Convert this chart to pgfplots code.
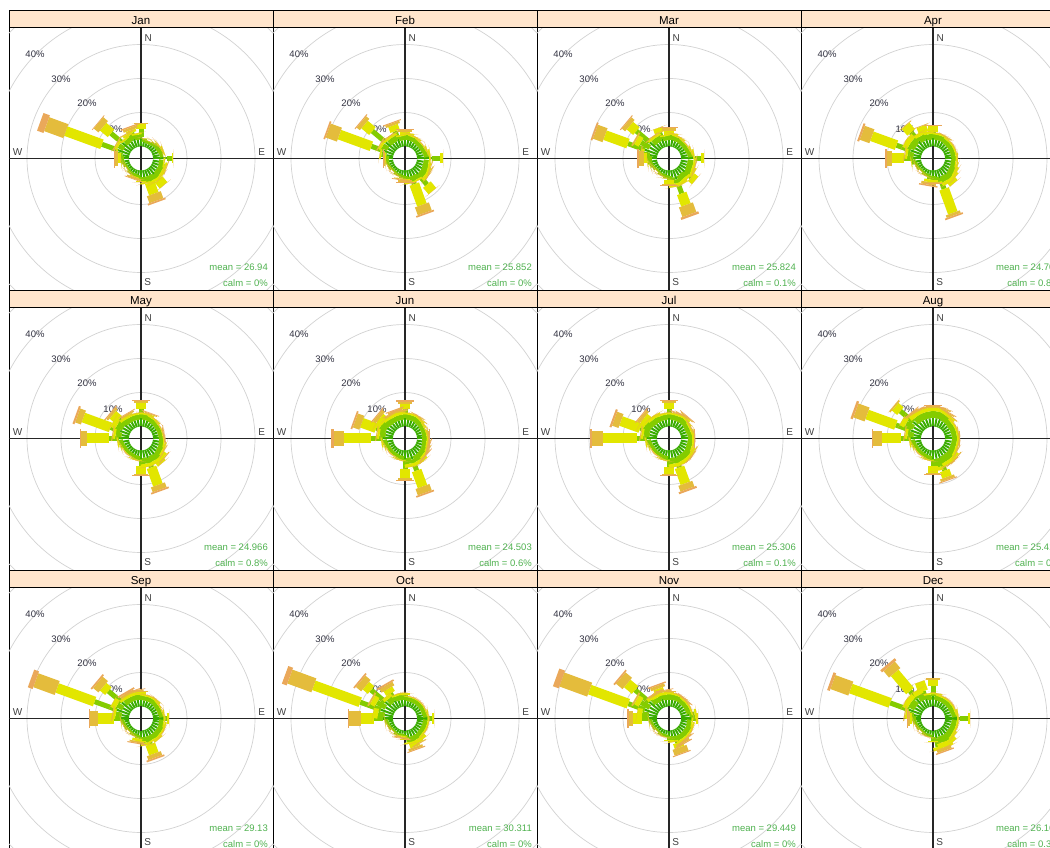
\documentclass[border=0pt]{standalone}
\usepackage{pgfplots}
\usepackage{pgfplotstable}
\usepackage{fontspec}
\setmainfont{Liberation Sans}
\pgfplotsset{compat=1.18}

\definecolor{cA}{RGB}{58,172,0}
\definecolor{cB}{RGB}{132,204,0}
\definecolor{cC}{RGB}{226,230,0}
\definecolor{cD}{RGB}{228,188,60}
\definecolor{cE}{RGB}{234,168,90}
\definecolor{stripc}{RGB}{255,229,204}
\definecolor{meang}{RGB}{80,178,80}
\definecolor{labc}{RGB}{50,50,65}

\pgfdeclareplotmark{paddle}{%
  \pgfmathsetmacro\pdA{90-\pdDir}%
  \pgfmathsetmacro\pdI{12+3.4*\pdIn}%
  \pgfmathsetmacro\pdO{12+3.4*\pdOut}%
  \pgfscope
  \pgftransformrotate{\pdA}%
  \pgfpathrectanglecorners{\pgfpoint{\pdI pt}{-\pdHw pt}}{\pgfpoint{\pdO pt}{\pdHw pt}}%
  \pgfusepathqfill
  \endpgfscope
}

\newcommand\Band[5]{%
  \addplot[only marks, mark=paddle, mark options={fill=#2, draw=none},
    visualization depends on={\thisrow{dir} \as \pdDir},
    visualization depends on={#3 \as \pdIn},
    visualization depends on={#4 \as \pdOut},
    visualization depends on={#5 \as \pdHw}]
    table[x expr=0, y expr=0] {#1};
}

\newcommand\Panel[6]{%
\begin{axis}[at={(9pt+#1*264pt,557pt-#2*280pt)}, anchor=south west,
  scale only axis, width=264pt, height=263pt,
  xmin=-132, xmax=132, ymin=-131.5, ymax=131.5, ticks=none,
  axis line style={black, line width=0.8pt}]
  \draw[gray!35, line width=0.7pt] (axis cs:0,0) circle[radius=46pt];
  \draw[gray!35, line width=0.7pt] (axis cs:0,0) circle[radius=80pt];
  \draw[gray!35, line width=0.7pt] (axis cs:0,0) circle[radius=114pt];
  \draw[gray!35, line width=0.7pt] (axis cs:0,0) circle[radius=148pt];
  \draw[gray!35, line width=0.7pt] (axis cs:0,0) circle[radius=182pt];
  \Band{#3}{cA}{0}{\thisrow{b1}}{1.0}
  \Band{#3}{cB}{\thisrow{b1}}{\thisrow{b1}+\thisrow{b2}}{2.5}
  \Band{#3}{cC}{\thisrow{b1}+\thisrow{b2}}{\thisrow{b1}+\thisrow{b2}+\thisrow{b3}}{5.0}
  \Band{#3}{cD}{\thisrow{b1}+\thisrow{b2}+\thisrow{b3}}{\thisrow{b1}+\thisrow{b2}+\thisrow{b3}+\thisrow{b4}}{7.4}
  \Band{#3}{cE}{\thisrow{b1}+\thisrow{b2}+\thisrow{b3}+\thisrow{b4}}{\thisrow{b1}+\thisrow{b2}+\thisrow{b3}+\thisrow{b4}+\thisrow{b5}}{9.4}
  \draw[black!85, line width=1.2pt] (axis cs:-132,0) -- (axis cs:132,0);
  \draw[black!85, line width=1.2pt] (axis cs:0,-131.5) -- (axis cs:0,131.5);
  \node[font=\fontsize{9.5}{10}\selectfont, text=labc, inner sep=0pt] at (axis cs:-28,29) {10\%};
  \node[font=\fontsize{9.5}{10}\selectfont, text=labc, inner sep=0pt] at (axis cs:-54,55) {20\%};
  \node[font=\fontsize{9.5}{10}\selectfont, text=labc, inner sep=0pt] at (axis cs:-80,79) {30\%};
  \node[font=\fontsize{9.5}{10}\selectfont, text=labc, inner sep=0pt] at (axis cs:-106,104) {40\%};
  \node[font=\fontsize{10}{11}\selectfont, text=black!75, inner sep=0pt] at (axis cs:7.3,120) {N};
  \node[font=\fontsize{10}{11}\selectfont, text=black!75, inner sep=0pt] at (axis cs:6.8,-123.5) {S};
  \node[font=\fontsize{10}{11}\selectfont, text=black!75, inner sep=0pt] at (axis cs:-123.5,6.8) {W};
  \node[font=\fontsize{10}{11}\selectfont, text=black!75, inner sep=0pt] at (axis cs:120.7,6.8) {E};
  \node[anchor=base east, font=\fontsize{9.5}{10}\selectfont, text=meang, inner sep=0pt] at (axis cs:127,-112.5) {mean = #5};
  \node[anchor=base east, font=\fontsize{9.5}{10}\selectfont, text=meang, inner sep=0pt] at (axis cs:127,-128.5) {calm = #6};
\end{axis}
\filldraw[fill=stripc, draw=black, line width=0.8pt] (9pt+#1*264pt,820pt-#2*280pt) rectangle (273pt+#1*264pt,837pt-#2*280pt);
\node[anchor=base, font=\fontsize{11.5}{12}\selectfont, inner sep=0pt] at (141pt+#1*264pt,822.5pt-#2*280pt) {#4};
}

\pgfplotstableread{
dir b1 b2 b3 b4 b5
10 1.4 1.0 0.1 0 0
20 1.2 0.8 0 0 0
30 1.2 0.8 0 0 0
40 1.4 1.0 0.1 0 0
50 1.6 1.2 0.2 0 0
60 1.6 1.2 0.2 0 0
70 1.8 1.3 0.4 0 0
80 2.0 1.0 0 0 0
90 4.0 1.5 0.5 0 0
100 1.8 1.3 0.4 0 0
110 2.0 1.7 0.6 0.2 0
120 2.0 1.5 0.5 0 0
130 2.0 1.7 0.8 0 0
140 2.5 2.0 2.3 0 0
150 2.0 1.7 0.8 0 0
160 2.0 2.0 3.5 2.2 0.5
170 2.0 1.5 0.5 0 0
180 1.8 1.3 0.4 0 0
190 1.4 1.0 0.1 0 0
200 1.2 0.8 0.3 0.5 0.2
210 1.2 0.8 0 0 0
220 1.2 0.8 0 0 0
230 1.0 0.5 0 0 0
240 1.0 0.5 0 0 0
250 1.2 0.8 0 0 0
260 1.4 1.0 0.1 0 0
270 1.5 1.0 0.6 1.0 0.4
280 2.0 1.5 0.5 0 0
290 4.0 4.7 11.3 6.0 2.0
300 2.2 1.8 0.7 0.3 0
310 4.0 4.0 3.0 1.8 0.2
320 2.0 1.5 0.5 0 0
330 2.2 1.8 0.7 0.3 0
340 2.5 2.0 0.8 0.8 0.4
350 2.0 1.5 0.5 0 0
360 2.7 2.3 1.8 0.2 0
}\tJan

\pgfplotstableread{
dir b1 b2 b3 b4 b5
10 2.0 1.5 0.5 0 0
20 1.8 1.3 0.4 0 0
30 1.8 1.3 0.4 0 0
40 1.6 1.2 0.2 0 0
50 1.6 1.2 0.2 0 0
60 1.6 1.2 0.2 0 0
70 1.8 1.3 0.4 0 0
80 2.0 1.5 0.5 0 0
90 4.5 2.2 1.0 0 0
100 2.0 1.5 0.5 0 0
110 2.0 1.7 0.6 0.2 0
120 2.2 1.8 0.7 0.3 0
130 2.2 1.8 1.0 0 0
140 2.5 4.0 2.5 0 0
150 2.0 1.5 0.5 0 0
160 2.0 2.5 6.5 2.5 0.5
170 2.0 1.5 0.5 0 0
180 1.5 1.0 0.3 0.5 0.2
190 1.4 1.0 0.1 0.3 0.2
200 1.2 0.8 0 0 0
210 1.2 0.8 0 0 0
220 1.0 0.5 0 0 0
230 1.0 0.5 0 0 0
240 1.2 0.8 0 0 0
250 1.2 0.8 0 0 0
260 1.4 1.0 0.1 0 0
270 1.2 0.8 0.3 0.5 0.2
280 2.0 1.5 0.5 0 0
290 3.5 3.5 10.0 3.5 0.5
300 2.2 1.8 0.7 0.3 0
310 4.0 5.0 3.0 1.2 0.3
320 2.0 1.7 0.6 0.2 0
330 2.0 1.7 0.6 0.2 0
340 2.5 2.5 1.8 0.7 0.3
350 1.8 1.3 0.4 0 0
360 2.0 1.5 0.8 0.5 0.2
}\tFeb

\pgfplotstableread{
dir b1 b2 b3 b4 b5
10 2.0 1.5 0.5 0 0
20 1.8 1.3 0.4 0 0
30 1.8 1.3 0.4 0 0
40 1.6 1.2 0.2 0 0
50 1.6 1.2 0.2 0 0
60 1.6 1.2 0.2 0 0
70 1.8 1.3 0.4 0 0
80 2.0 1.5 0.5 0 0
90 4.0 2.0 0.8 0 0
100 2.0 1.7 0.6 0.2 0
110 2.0 1.7 0.6 0.2 0
120 2.2 1.8 1.0 0 0
130 2.5 2.5 1.5 0 0
140 2.0 1.7 0.8 0 0
150 2.2 1.8 1.0 0 0
160 3.0 4.4 3.6 3.0 0.7
170 2.2 1.8 1.0 0 0
180 1.5 1.2 1.2 0.5 0.3
190 1.4 1.0 0.1 0 0
200 1.2 0.8 0 0 0
210 1.2 0.8 0 0 0
220 1.0 0.5 0 0 0
230 1.0 0.5 0 0 0
240 1.2 0.8 0 0 0
250 1.4 1.0 0.1 0 0
260 1.6 1.2 0.2 0 0
270 1.5 1.3 1.0 1.5 0.5
280 2.2 1.8 0.7 0.3 0
290 4.0 5.3 7.2 3.0 0.5
300 3.0 3.0 1.5 0.5 0
310 4.0 5.0 2.5 1.2 0.3
320 2.0 1.7 0.6 0.2 0
330 2.0 1.7 0.6 0.2 0
340 2.5 2.0 1.5 0 0
350 1.8 1.3 0.4 0 0
360 2.0 1.5 1.2 0.7 0.3
}\tMar

\pgfplotstableread{
dir b1 b2 b3 b4 b5
10 2.0 1.5 0.5 0 0
20 2.0 1.5 0.5 0 0
30 2.0 1.5 0.3 0.2 0
40 1.8 1.3 0.4 0 0
50 1.8 1.3 0.4 0 0
60 1.8 1.3 0.4 0 0
70 1.8 1.3 0.4 0 0
80 1.8 1.3 0.4 0 0
90 2.2 1.2 0.2 0 0
100 1.8 1.3 0.4 0 0
110 2.0 1.5 0.5 0 0
120 2.0 1.7 0.8 0 0
130 2.2 1.8 1.0 0 0
140 2.5 2.0 1.5 0 0
150 2.2 1.8 1.0 0 0
160 2.5 3.5 7.5 0.8 0.5
170 2.0 1.5 0.5 0 0
180 1.6 1.2 0.7 0.3 0.2
190 1.5 1.2 0.8 0.8 0.4
200 1.2 0.8 0 0 0
210 1.2 0.8 0 0 0
220 1.0 0.5 0 0 0
230 1.0 0.5 0 0 0
240 1.2 0.8 0 0 0
250 1.2 0.8 0 0 0
260 1.6 1.2 0.2 0 0
270 2.5 2.5 3.6 1.5 0.5
280 2.2 1.8 0.7 0.3 0
290 3.5 4.4 7.7 3.0 0.6
300 2.5 2.0 1.5 0 0
310 2.5 2.0 1.5 0 0
320 3.0 3.5 2.5 0.2 0
330 2.2 1.8 1.0 0 0
340 2.5 2.0 2.0 0.2 0
350 2.0 1.7 0.8 0 0
360 2.4 2.0 1.6 0.3 0.1
}\tApr

\pgfplotstableread{
dir b1 b2 b3 b4 b5
10 2.0 1.5 0.5 0 0
20 2.0 1.5 0.5 0.3 0.2
30 1.8 1.3 0.4 0 0
40 1.8 1.3 0.4 0 0
50 1.6 1.2 0.2 0 0
60 1.6 1.2 0.2 0 0
70 1.6 1.2 0.2 0 0
80 1.6 1.2 0.2 0.3 0.2
90 1.8 1.2 0.3 0 0
100 1.8 1.3 0.4 0 0
110 2.0 1.5 0.5 0 0
120 2.0 1.5 0.5 0.2 0
130 2.2 1.8 1.2 0.3 0
140 2.5 2.0 1.5 0 0
150 2.2 1.8 1.0 0 0
160 2.5 3.0 5.5 1.5 0.5
170 2.2 1.8 1.0 0 0
180 2.5 2.0 2.3 0.5 0.3
190 1.6 1.2 0.2 0 0
200 1.6 1.2 0.2 0 0
210 1.4 1.0 0.1 0 0
220 1.4 1.0 0.1 0 0
230 1.4 1.0 0.1 0 0
240 1.4 1.0 0.1 0 0
250 1.6 1.2 0.2 0 0
260 1.8 1.3 0.4 0 0
270 3.0 3.0 6.5 1.5 0.5
280 2.2 1.8 0.7 0.3 0
290 3.0 3.0 8.5 1.8 0.6
300 2.5 2.0 1.5 0 0
310 2.5 2.5 2.3 0.7 0.3
320 2.0 1.7 0.8 0 0
330 2.0 1.5 0.8 0.5 0.2
340 2.0 1.5 0.5 0 0
350 2.0 1.5 0.5 0 0
360 2.5 2.5 2.0 0.5 0.3
}\tMay

\pgfplotstableread{
dir b1 b2 b3 b4 b5
10 2.0 1.5 0.5 0 0
20 2.0 1.5 0.5 0 0
30 2.0 1.5 0.5 0.2 0
40 1.8 1.5 0.5 0.2 0
50 1.8 1.3 0.4 0 0
60 1.6 1.2 0.2 0 0
70 1.6 1.2 0.2 0 0
80 1.6 1.2 0.4 0.3 0
90 1.6 1.2 0.4 0.2 0.1
100 1.6 1.2 0.4 0.3 0
110 1.8 1.3 0.4 0.3 0.2
120 2.0 1.5 0.5 0.2 0
130 2.0 1.5 0.5 0.3 0.2
140 2.2 1.8 1.0 0 0
150 2.2 1.8 1.0 0 0
160 3.0 3.5 5.0 2.0 0.5
170 2.2 1.8 1.0 0 0
180 2.5 3.0 2.5 0.6 0.5
190 1.6 1.2 0.2 0 0
200 1.6 1.2 0.2 0 0
210 1.4 1.0 0.1 0 0
220 1.4 1.0 0.1 0 0
230 1.4 1.0 0.1 0 0
240 1.4 1.0 0.1 0 0
250 1.6 1.2 0.2 0 0
260 1.8 1.3 0.4 0 0
270 3.0 3.5 8.0 3.0 0.8
280 2.2 1.8 0.7 0.3 0
290 2.5 3.0 4.5 2.0 0.5
300 2.5 2.0 1.5 0 0
310 2.2 2.0 1.8 1.0 0.3
320 2.0 1.7 0.8 0 0
330 2.0 1.5 0.8 0.5 0.2
340 2.0 1.5 1.0 0.7 0.3
350 2.0 1.5 0.8 0.5 0.2
360 2.5 2.5 1.5 0.8 0.4
}\tJun

\pgfplotstableread{
dir b1 b2 b3 b4 b5
10 2.0 1.5 0.5 0 0
20 2.0 1.5 0.5 0.3 0.2
30 2.0 1.7 0.5 0.3 0
40 2.0 1.7 0.8 0.3 0.2
50 2.0 1.5 0.5 0 0
60 1.8 1.3 0.4 0.3 0
70 1.8 1.3 0.4 0 0
80 2.0 1.5 0.5 0 0
90 2.0 1.3 0.4 0.2 0.1
100 2.0 1.5 0.5 0 0
110 2.0 1.5 0.5 0 0
120 2.2 1.8 0.7 0.3 0
130 2.2 1.8 0.7 0.3 0
140 2.2 1.8 1.0 0 0
150 2.2 1.8 1.0 0 0
160 2.5 3.0 5.0 1.8 0.6
170 2.2 1.8 1.0 0 0
180 2.5 2.5 1.8 0.5 0.3
190 1.6 1.2 0.2 0 0
200 1.6 1.2 0.2 0 0
210 1.4 1.0 0.1 0 0
220 1.4 1.0 0.1 0 0
230 1.4 1.0 0.1 0 0
240 1.4 1.0 0.1 0 0
250 1.6 1.2 0.2 0 0
260 1.8 1.3 0.4 0 0
270 3.0 3.0 10.0 3.0 0.8
280 2.2 1.8 0.7 0.3 0
290 2.5 3.0 6.0 2.0 0.6
300 2.5 2.0 1.5 0 0
310 2.2 2.0 1.8 0.9 0.3
320 2.0 1.7 0.8 0 0
330 2.0 1.7 0.8 0 0
340 2.0 1.5 0.5 0 0
350 2.0 1.5 0.5 0 0
360 2.5 2.5 2.0 0.5 0.4
}\tJul

\pgfplotstableread{
dir b1 b2 b3 b4 b5
10 2.5 2.0 1.0 0.4 0.1
20 2.5 2.0 1.0 0.4 0.1
30 2.2 2.0 0.8 0.3 0.2
40 2.2 1.8 0.7 0.3 0
50 2.0 1.5 0.5 0 0
60 2.0 1.5 0.5 0 0
70 2.0 1.5 0.5 0 0
80 2.0 1.5 0.5 0.2 0
90 2.0 1.5 0.5 0.2 0
100 2.0 1.5 0.5 0.2 0
110 2.0 1.5 0.5 0.2 0
120 2.0 1.7 0.6 0.2 0
130 2.2 2.0 1.0 0.3 0
140 2.2 2.0 1.0 0.3 0
150 2.2 2.0 1.0 0.3 0
160 2.5 4.0 2.0 0.8 0.3
170 2.5 2.5 1.0 0 0
180 2.5 2.0 2.0 0.3 0.1
190 1.6 1.2 0.2 0 0
200 1.6 1.2 0.2 0 0
210 1.4 1.0 0.1 0 0
220 1.4 1.0 0.1 0 0
230 1.4 1.0 0.1 0 0
240 1.4 1.0 0.1 0 0
250 1.6 1.2 0.2 0 0
260 1.8 1.3 0.4 0 0
270 3.0 3.0 5.5 2.5 0.5
280 2.2 1.8 0.7 0.3 0
290 3.5 4.6 9.0 3.5 0.7
300 3.0 2.5 1.5 0 0
310 4.0 5.0 2.0 0.5 0
320 2.5 2.0 1.3 0.5 0.2
330 2.5 2.0 1.0 0.4 0.1
340 2.5 2.0 1.0 0.4 0.1
350 2.5 2.0 1.0 0.4 0.1
360 2.5 2.0 1.0 0.5 0.2
}\tAug

\pgfplotstableread{
dir b1 b2 b3 b4 b5
10 1.8 1.3 0.4 0 0
20 1.8 1.3 0.4 0 0
30 1.8 1.3 0.4 0 0
40 1.8 1.3 0.6 0 0
50 1.6 1.2 0.4 0 0
60 1.6 1.2 0.2 0 0
70 1.6 1.2 0.2 0 0
80 1.8 1.3 0.4 0 0
90 3.0 1.2 0.4 0 0
100 1.8 1.3 0.4 0 0
110 2.0 1.5 0.5 0 0
120 2.0 1.5 0.5 0 0
130 2.0 1.5 0.5 0 0
140 2.0 1.7 0.8 0 0
150 2.0 1.5 0.5 0 0
160 2.0 2.5 3.0 1.2 0.5
170 2.0 1.7 0.8 0 0
180 1.8 1.3 0.4 0 0
190 1.4 1.0 0.8 0.5 0.3
200 1.2 0.8 0 0 0
210 1.2 0.8 0 0 0
220 1.0 0.5 0 0 0
230 1.0 0.5 0 0 0
240 1.2 0.8 0 0 0
250 1.2 0.8 0 0 0
260 1.4 1.0 0.1 0 0
270 2.5 2.0 4.5 2.4 0.5
280 2.2 1.8 0.7 0.3 0
290 4.0 7.0 11.7 6.7 1.5
300 2.5 2.0 1.5 0 0
310 4.0 5.0 2.0 2.0 0.5
320 2.0 1.7 0.8 0 0
330 2.0 1.5 0.8 0.7 0.5
340 2.0 1.5 0.8 0.5 0.2
350 2.0 1.5 0.8 0.5 0.2
360 2.0 1.5 0.8 0.4 0
}\tSep

\pgfplotstableread{
dir b1 b2 b3 b4 b5
10 1.6 1.2 0.2 0 0
20 1.6 1.2 0.2 0 0
30 1.6 1.2 0.2 0 0
40 1.6 1.2 0.2 0 0
50 1.6 1.2 0.2 0 0
60 1.6 1.2 0.2 0 0
70 1.6 1.2 0.2 0 0
80 1.8 1.3 0.4 0 0
90 3.0 1.5 0.5 0 0
100 1.8 1.3 0.4 0 0
110 1.8 1.3 0.4 0 0
120 1.8 1.3 0.4 0 0
130 1.8 1.3 0.4 0 0
140 2.0 1.5 1.0 0 0
150 2.0 1.5 1.2 0.3 0
160 2.0 1.8 1.5 0.7 0.3
170 2.0 1.5 0.5 0 0
180 1.4 1.0 0.1 0 0
190 1.0 0.6 0.3 0.4 0.2
200 1.2 0.8 0 0 0
210 1.2 0.8 0 0 0
220 1.0 0.5 0 0 0
230 1.0 0.5 0 0 0
240 1.2 0.8 0 0 0
250 1.2 0.8 0 0 0
260 1.4 1.0 0.1 0 0
270 3.0 2.5 3.8 3.5 0.5
280 2.5 2.0 1.5 0 0
290 4.0 6.5 14.5 7.5 1.5
300 3.0 3.0 1.5 0.5 0
310 4.0 5.5 2.0 2.0 0.5
320 2.2 1.8 1.0 0 0
330 2.5 2.5 1.5 1.2 0.5
340 2.0 1.5 0.5 0 0
350 2.0 1.5 0.5 0 0
360 2.0 1.5 0.5 0 0
}\tOct

\pgfplotstableread{
dir b1 b2 b3 b4 b5
10 2.0 1.5 0.5 0 0
20 2.0 1.5 0.5 0 0
30 2.0 1.5 0.3 0.2 0
40 1.8 1.3 0.4 0.3 0.2
50 1.8 1.3 0.4 0 0
60 1.8 1.3 0.4 0 0
70 1.8 1.3 0.4 0 0
80 2.5 1.6 0.6 0 0
90 3.0 1.5 0.4 0 0
100 1.8 1.3 0.4 0 0
110 2.0 1.5 0.5 0 0
120 2.0 1.5 0.5 0 0
130 2.0 1.5 0.5 0 0
140 2.0 1.5 0.5 0.3 0.2
150 2.0 1.5 0.7 0.7 0.3
160 2.0 2.0 1.5 1.8 0.3
170 1.8 1.3 0.4 0 0
180 1.6 1.2 0.2 0 0
190 1.2 0.8 0 0 0
200 1.2 0.8 0 0 0
210 1.2 0.8 0 0 0
220 1.0 0.5 0 0 0
230 1.0 0.5 0 0 0
240 1.2 0.8 0 0 0
250 1.2 0.8 0 0 0
260 1.4 1.0 0.1 0 0
270 2.5 2.0 2.5 1.3 0.4
280 2.5 2.0 1.5 0 0
290 4.0 5.2 12.1 8.7 1.8
300 3.0 3.0 1.5 0.5 0
310 4.0 5.5 3.0 2.5 0.5
320 2.2 1.8 1.0 0 0
330 2.0 1.5 0.8 0.5 0.2
340 2.5 2.0 1.3 0.9 0.4
350 2.0 1.5 0.8 0.5 0.2
360 2.0 1.7 0.6 0.2 0
}\tNov

\pgfplotstableread{
dir b1 b2 b3 b4 b5
10 2.0 1.5 0.5 0 0
20 1.8 1.3 0.4 0 0
30 1.8 1.3 0.4 0 0
40 1.8 1.3 0.4 0 0
50 1.8 1.3 0.4 0 0
60 1.8 1.3 0.4 0 0
70 1.8 1.3 0.4 0 0
80 2.0 1.5 0.5 0 0
90 4.5 2.3 0.5 0 0
100 2.0 1.5 0.5 0 0
110 2.0 1.5 0.5 0 0
120 2.0 1.5 0.5 0 0
130 2.0 1.7 0.8 0 0
140 2.2 2.0 1.3 0 0
150 2.2 2.0 1.8 0 0
160 2.0 2.0 1.5 1.0 0.4
170 2.5 2.5 1.0 0 0
180 1.8 1.3 0.4 0 0
190 1.2 0.8 0 0 0
200 1.2 0.8 0 0 0
210 1.2 0.8 0 0 0
220 1.0 0.5 0 0 0
230 1.0 0.5 0 0 0
240 1.2 0.8 0 0 0
250 1.2 0.8 0 0 0
260 1.4 1.0 0.1 0 0
270 1.5 1.2 0.6 0.6 0.2
280 2.2 1.8 0.7 0.3 0
290 4.0 5.9 12.3 5.6 0.8
300 2.5 2.0 1.5 0 0
310 2.5 2.0 1.5 0 0
320 4.0 3.0 7.0 2.5 0.8
330 2.5 2.0 1.5 0 0
340 2.5 2.5 2.9 0 0
350 2.0 1.5 0.5 0 0
360 3.0 3.0 1.8 0.6 0
}\tDec

\begin{document}
\begin{tikzpicture}
\useasboundingbox (0pt,0pt) rectangle (1050pt,847pt);
\clip (0pt,0pt) rectangle (1050pt,847pt);
\fill[white] (0pt,0pt) rectangle (1050pt,847pt);
\Panel{0}{0}{\tJan}{Jan}{26.94}{0\%}
\Panel{1}{0}{\tFeb}{Feb}{25.852}{0\%}
\Panel{2}{0}{\tMar}{Mar}{25.824}{0.1\%}
\Panel{3}{0}{\tApr}{Apr}{24.706}{0.8\%}
\Panel{0}{1}{\tMay}{May}{24.966}{0.8\%}
\Panel{1}{1}{\tJun}{Jun}{24.503}{0.6\%}
\Panel{2}{1}{\tJul}{Jul}{25.306}{0.1\%}
\Panel{3}{1}{\tAug}{Aug}{25.418}{0\%}
\Panel{0}{2}{\tSep}{Sep}{29.13}{0\%}
\Panel{1}{2}{\tOct}{Oct}{30.311}{0\%}
\Panel{2}{2}{\tNov}{Nov}{29.449}{0\%}
\Panel{3}{2}{\tDec}{Dec}{26.165}{0.3\%}
\end{tikzpicture}
\end{document}
